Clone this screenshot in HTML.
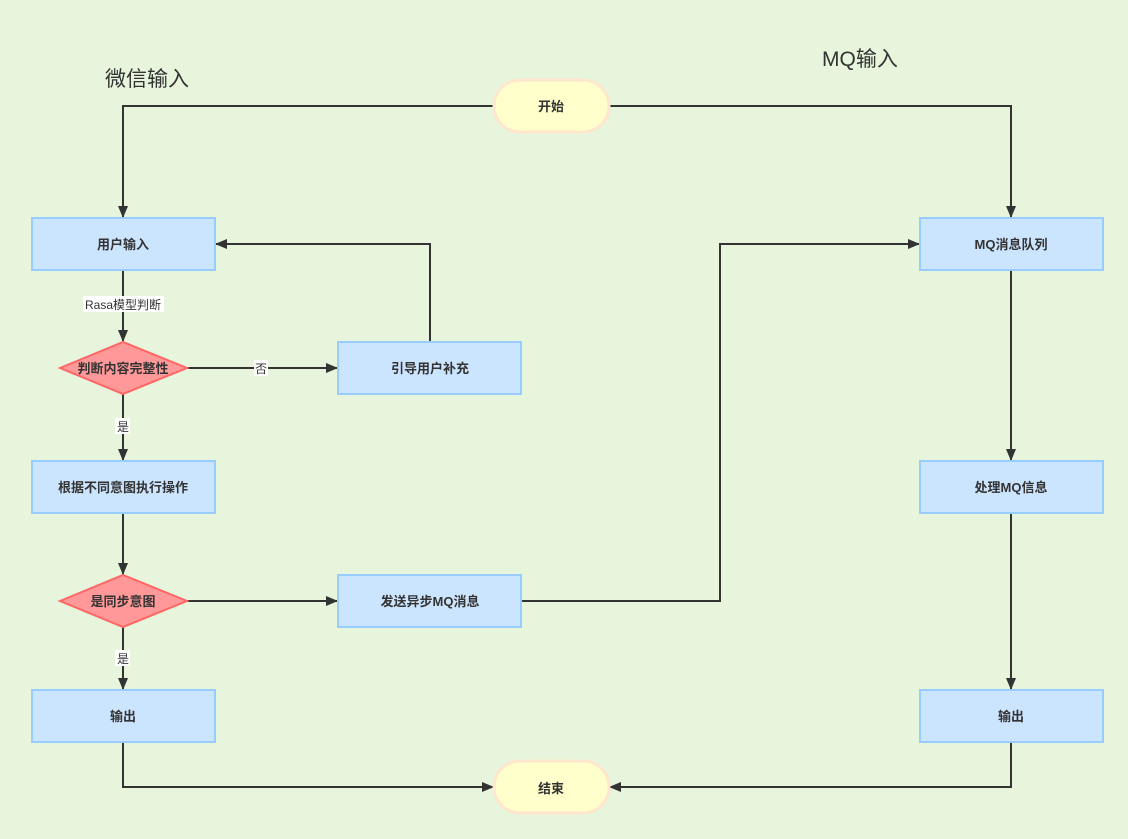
<!DOCTYPE html>
<html><head><meta charset="utf-8"><style>
html,body{margin:0;padding:0;background:#e6f5dc;overflow:hidden;}
svg{display:block;}
svg text{font-family:"Liberation Sans","Noto Sans CJK SC",sans-serif;fill:#333;}
.b{font-size:13px;font-weight:bold;}
</style></head><body>
<svg width="1128" height="839" viewBox="0 0 1128 839">
<defs><marker id="a" markerWidth="12" markerHeight="12" refX="11" refY="6" orient="auto" markerUnits="userSpaceOnUse"><path d="M0,1 L12,6 L0,11 Z" fill="#333"/></marker></defs>
<rect width="1128" height="839" fill="#e6f5dc"/>
<text x="105" y="86" font-size="21">微信输入</text>
<text x="822" y="66" font-size="21">MQ输入</text>
<g fill="none" stroke="#333" stroke-width="2">
<path d="M494,106 H123 V217" marker-end="url(#a)"/>
<path d="M609,106 H1011 V217" marker-end="url(#a)"/>
<path d="M123,270 V341" marker-end="url(#a)"/>
<path d="M187,368 H337" marker-end="url(#a)"/>
<path d="M430,342 V244 H216" marker-end="url(#a)"/>
<path d="M123,394 V460" marker-end="url(#a)"/>
<path d="M123,513 V574" marker-end="url(#a)"/>
<path d="M187,601 H337" marker-end="url(#a)"/>
<path d="M521,601 H720 V244 H919" marker-end="url(#a)"/>
<path d="M123,627 V689" marker-end="url(#a)"/>
<path d="M1011,270 V460" marker-end="url(#a)"/>
<path d="M1011,513 V689" marker-end="url(#a)"/>
<path d="M123,742 V787 H493" marker-end="url(#a)"/>
<path d="M1011,742 V787 H610" marker-end="url(#a)"/>
</g>
<g fill="#cce5ff" stroke="#99ccff" stroke-width="2">
<rect x="32" y="218" width="183" height="52"/>
<rect x="32" y="461" width="183" height="52"/>
<rect x="32" y="690" width="183" height="52"/>
<rect x="338" y="342" width="183" height="52"/>
<rect x="338" y="575" width="183" height="52"/>
<rect x="920" y="218" width="183" height="52"/>
<rect x="920" y="461" width="183" height="52"/>
<rect x="920" y="690" width="183" height="52"/>
</g>
<g fill="#ff9999" stroke="#ff6666" stroke-width="2">
<path d="M60,368 L123,342 L187,368 L123,394 Z"/>
<path d="M60,601 L123,575 L187,601 L123,627 Z"/>
</g>
<g fill="#ffffcc" stroke="#ffe6cc" stroke-width="3">
<rect x="494" y="80" width="115" height="52" rx="26"/>
<rect x="494" y="761" width="115" height="52" rx="26"/>
</g>
<rect x="83" y="296" width="81" height="16" fill="#fff"/>
<rect x="254" y="360" width="14" height="16" fill="#fff"/>
<rect x="115" y="418" width="15" height="16" fill="#fff"/>
<rect x="115" y="650" width="15" height="16" fill="#fff"/>
<g font-size="12" text-anchor="middle">
<text x="123" y="309">Rasa模型判断</text>
<text x="261" y="373">否</text>
<text x="123" y="431">是</text>
<text x="123" y="663">是</text>
</g>
<g text-anchor="middle">
<text x="551" y="111" class="b">开始</text>
<text x="551" y="793" class="b">结束</text>
<text x="123" y="249" class="b">用户输入</text>
<text x="123" y="373" class="b">判断内容完整性</text>
<text x="123" y="492" class="b">根据不同意图执行操作</text>
<text x="123" y="606" class="b">是同步意图</text>
<text x="123" y="721" class="b">输出</text>
<text x="430" y="373" class="b">引导用户补充</text>
<text x="430" y="606" class="b">发送异步MQ消息</text>
<text x="1011" y="249" class="b">MQ消息队列</text>
<text x="1011" y="492" class="b">处理MQ信息</text>
<text x="1011" y="721" class="b">输出</text>
</g>
</svg>
</body></html>
